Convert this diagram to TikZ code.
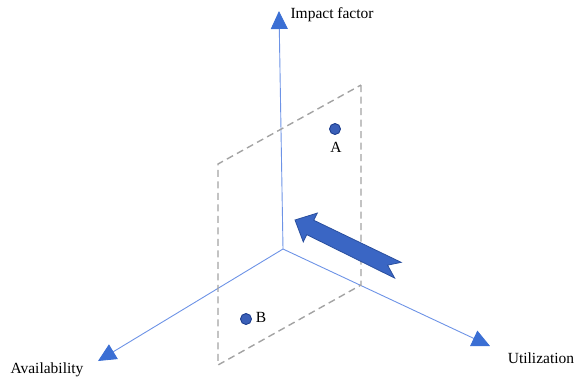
\documentclass[tikz,border=0pt]{standalone}
\usepackage{fontspec}
\setmainfont{Liberation Serif}
\usetikzlibrary{arrows.meta,calc}
\definecolor{axisline}{HTML}{6D93E6}
\definecolor{axistip}{HTML}{3B6FD4}
\definecolor{planegray}{HTML}{A3A3A3}
\definecolor{dotblue}{HTML}{3A5FB8}
\definecolor{dotedge}{HTML}{1F3F8F}
\definecolor{bigarrow}{HTML}{3A66C4}
\definecolor{bigedge}{HTML}{2A4F9E}

\begin{document}
\begin{tikzpicture}[x=1pt,y=-1pt,
  axis/.style={draw=axisline, line width=0.9pt,
    -{Triangle[length=18pt,width=17pt,color=axistip]}},
  plane/.style={draw=planegray, line width=1.4pt, dash pattern=on 7pt off 4.5pt},
  dot/.style={circle, fill=dotblue, draw=dotedge, line width=0.9pt,
    inner sep=0pt, minimum size=11pt},
  lbl/.style={font=\fontsize{15.5}{18}\selectfont}]
\useasboundingbox (0,0) rectangle (576,381);
% axes
\coordinate (O) at (283,249);
\coordinate (impact) at (279,11);
\coordinate (avail) at (98,361);
\coordinate (util) at (490,346);
\draw[axis] (O) -- (impact);
\draw[axis] (O) -- (avail);
\draw[axis] (O) -- (util);
\node[lbl, anchor=west] (impactlbl) at (287,15) {Impact factor};
\node[lbl] (availlbl) at (47,370) {Availability};
\node[lbl] (utillbl) at (541,358) {Utilization};
% dashed plane
\coordinate (p1) at (361,85);
\coordinate (p2) at (361,285);
\coordinate (p3) at (218,365);
\coordinate (p4) at (218,164);
\draw[plane] (p1) -- (p2) -- (p3) -- (p4) -- cycle;
% points
\node[dot] (A) at (335,129) {};
\node[lbl] (Albl) at (336,147) {A};
\node[dot] (B) at (246,319) {};
\node[lbl] (Blbl) at (261,317) {B};
% direction arrow
\begin{scope}[shift={(295,220)}, rotate=-26]
\filldraw[fill=bigarrow, draw=bigedge, line width=0.8pt, line join=miter]
  (0,0) -- (17,16) -- (17,8) -- (115,8.5) -- (103,0) -- (114,-8.5)
  -- (17,-8) -- (17,-16) -- cycle;
\end{scope}
\end{tikzpicture}
\end{document}
